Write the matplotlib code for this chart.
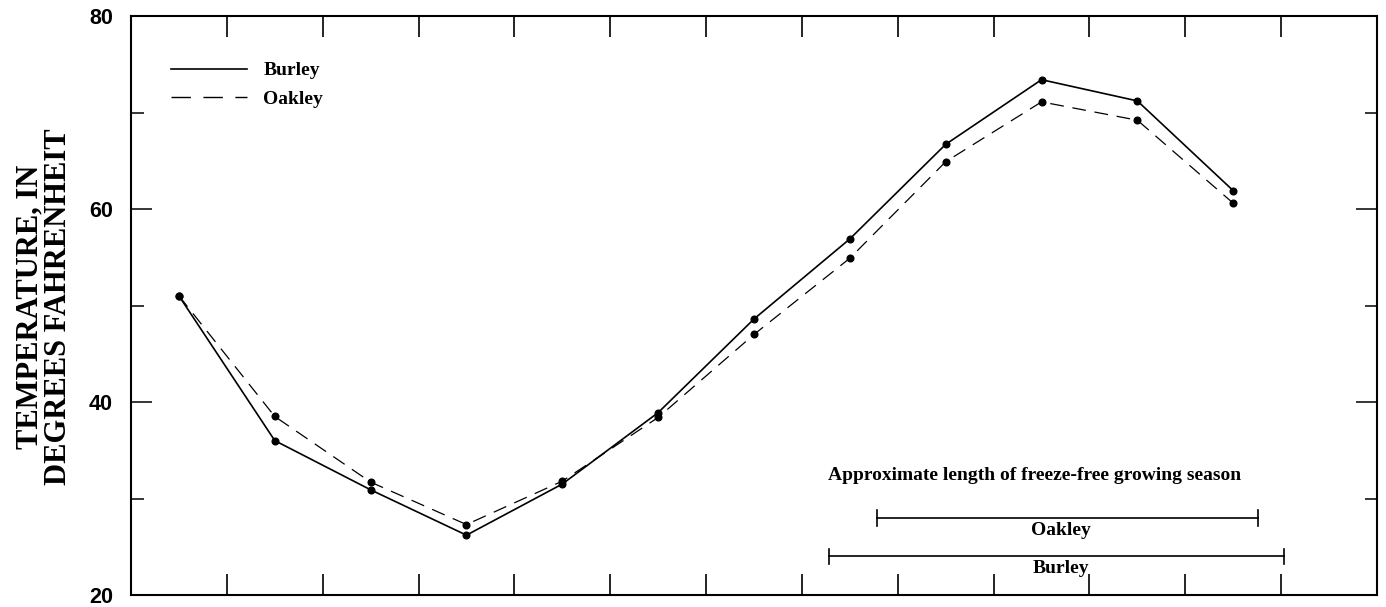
import matplotlib
matplotlib.use("Agg")
import matplotlib.pyplot as plt
from matplotlib.ticker import FixedLocator, NullFormatter
from matplotlib.lines import Line2D

# ---- data ----
month_pos = [0.5, 1.5, 2.5, 3.5, 4.5, 5.5, 6.5, 7.5, 8.5, 9.5, 10.5, 11.5]
burley = [51.0, 36.0, 30.9, 26.2, 31.5, 38.9, 48.6, 56.9, 66.7, 73.4, 71.2, 61.9]
oakley = [51.0, 38.5, 31.7, 27.3, 31.8, 38.4, 47.0, 54.9, 64.9, 71.1, 69.2, 60.6]
season_names = ["Oakley", "Burley"]
season_start = [7.78, 7.28]
season_end = [11.76, 12.03]
season_level = [28.0, 24.0]

y_major = [20, 40, 60, 80]
y_minor = [30, 50, 70]
x_ticks = list(range(1, 13))

serif = "Liberation Serif"
sans = "Liberation Sans"
DASH = (11, 7)

fig = plt.figure(figsize=(13.86, 6.07), dpi=100)
ax = fig.add_axes([131 / 1386, 1 - 595 / 607, (1377 - 131) / 1386, (595 - 16) / 607])

ax.plot(month_pos, burley, color="black", lw=1.2, marker="o", ms=4.8)
ax.plot(month_pos, oakley, color="black", lw=0.9, marker="o", ms=4.8, dashes=DASH)

# growing season bars
label_x = 9.7
for name, x0, x1, lev in zip(season_names, season_start, season_end, season_level):
    ax.plot([x0, x1], [lev, lev], color="black", lw=1.2)
    ax.plot([x0, x0], [lev - 0.8, lev + 0.8], color="black", lw=1.2)
    ax.plot([x1, x1], [lev - 0.8, lev + 0.8], color="black", lw=1.2)
    ax.text(label_x, lev - 1.3, name, ha="center", va="center",
            fontsize=14, fontweight="bold", family=serif)

ax.text(9.43, 32.4, "Approximate length of freeze-free growing season",
        ha="center", va="center", fontsize=14, fontweight="bold", family=serif)

ax.set_xlim(0, 13)
ax.set_ylim(20, 80)

ax.xaxis.set_major_locator(FixedLocator(x_ticks))
ax.xaxis.set_major_formatter(NullFormatter())
ax.yaxis.set_major_locator(FixedLocator(y_major))
ax.yaxis.set_minor_locator(FixedLocator(y_minor))
ax.tick_params(axis="x", which="major", direction="in", length=15, width=1.2,
               top=True, bottom=True)
ax.tick_params(axis="y", which="major", direction="in", length=15, width=1.1,
               left=True, right=True, pad=13, labelsize=15.5)
ax.tick_params(axis="y", which="minor", direction="in", length=9, width=1.1,
               left=True, right=True)
for lab in ax.get_yticklabels():
    lab.set_family(sans)
    lab.set_fontweight("bold")

for s in ax.spines.values():
    s.set_linewidth(1.5)

handles = [Line2D([], [], color="black", lw=1.2),
           Line2D([], [], color="black", lw=1.0, dashes=(14, 9))]
ax.legend(handles, ["Burley", "Oakley"], loc="upper left",
          bbox_to_anchor=(0.032, 0.921), frameon=False, borderaxespad=0,
          borderpad=0, handlelength=3.9, handletextpad=0.85, labelspacing=0.55,
          prop={"family": serif, "weight": "bold", "size": 14})

fig.text(0.032, 0.495, "TEMPERATURE, IN\nDEGREES FAHRENHEIT", rotation=90,
         ha="center", va="center", fontsize=22, fontweight="bold", family=serif,
         linespacing=1.0)

fig.savefig("out.png", dpi=100)
